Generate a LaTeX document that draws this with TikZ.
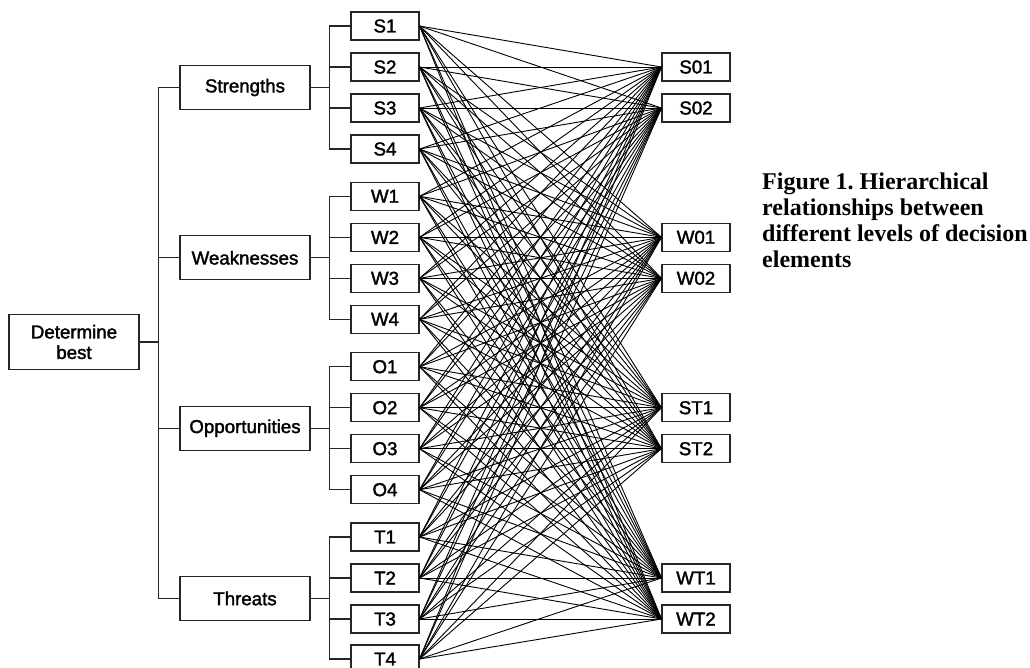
\documentclass[tikz,border=0pt]{standalone}
\usepackage{fontspec}
\setmainfont{Liberation Sans}
\newfontfamily\boxfont[FakeBold=1.8]{Liberation Sans}
\newfontfamily\capfont{Liberation Serif}
\usepackage{tikz}
\usetikzlibrary{calc}
\frenchspacing

\tikzset{
    box/.style={draw=black!85, line width=1.1pt, inner sep=0pt, align=center,
        font=\boxfont\fontsize{18.7}{20.5}\selectfont},
    leaf/.style={box, minimum width=68pt, minimum height=28pt},
    group/.style={box, minimum width=130pt, minimum height=44pt},
    tree/.style={draw=black!85, line width=1.1pt},
    link/.style={line width=0.9pt},
}

\begin{document}
\begin{tikzpicture}[x=1pt,y=-1pt]
    \useasboundingbox (0,0) rectangle (1030,667);
    % goal
    \node[box, minimum width=130pt, minimum height=55pt] (goal) at (74,342) {Determine\\best};
    % swot groups
    \node[group] (str) at (245,87.5) {Strengths};
    \node[group] (wea) at (245,257.8) {Weaknesses};
    \node[group] (opp) at (245,428.2) {Opportunities};
    \node[group] (thr) at (245,598.5) {Threats};
    % factors
    \node[leaf] (s1) at (385,26) {S1};
    \node[leaf] (s2) at (385,67) {S2};
    \node[leaf] (s3) at (385,108) {S3};
    \node[leaf] (s4) at (385,149) {S4};
    \node[leaf] (w1) at (385,196.3) {W1};
    \node[leaf] (w2) at (385,237.3) {W2};
    \node[leaf] (w3) at (385,278.3) {W3};
    \node[leaf] (w4) at (385,319.3) {W4};
    \node[leaf] (o1) at (385,366.7) {O1};
    \node[leaf] (o2) at (385,407.7) {O2};
    \node[leaf] (o3) at (385,448.7) {O3};
    \node[leaf] (o4) at (385,489.7) {O4};
    \node[leaf] (t1) at (385,537) {T1};
    \node[leaf] (t2) at (385,578) {T2};
    \node[leaf] (t3) at (385,619) {T3};
    \node[leaf] (t4) at (385,659) {T4};
    % strategies
    \node[leaf] (so1) at (696,67) {S01};
    \node[leaf] (so2) at (696,108) {S02};
    \node[leaf] (wo1) at (696,237.3) {W01};
    \node[leaf] (wo2) at (696,278.3) {W02};
    \node[leaf] (st1) at (696,407.7) {ST1};
    \node[leaf] (st2) at (696,448.7) {ST2};
    \node[leaf] (wt1) at (696,578) {WT1};
    \node[leaf] (wt2) at (696,619) {WT2};
    % tree lines
    \foreach \g in {str,wea,opp,thr}
        \draw[tree] (goal.east) -- ++(19,0) |- (\g.west);
    \foreach \f in {s1,s2,s3,s4}
        \draw[tree] (str.east) -- ++(19,0) |- (\f.west);
    \foreach \f in {w1,w2,w3,w4}
        \draw[tree] (wea.east) -- ++(19,0) |- (\f.west);
    \foreach \f in {o1,o2,o3,o4}
        \draw[tree] (opp.east) -- ++(19,0) |- (\f.west);
    \foreach \f in {t1,t2,t3,t4}
        \draw[tree] (thr.east) -- ++(19,0) |- (\f.west);
    % every factor to every strategy
    \foreach \f in {s1,s2,s3,s4,w1,w2,w3,w4,o1,o2,o3,o4,t1,t2,t3,t4}
        \foreach \s in {so1,so2,wo1,wo2,st1,st2,wt1,wt2}
            \draw[link] (\f.east) -- (\s.west);
    % caption
    \node[anchor=north west, align=left, inner sep=0pt,
        font=\capfont\bfseries\fontsize{24}{26}\selectfont] (caption) at (762,173)
        {Figure 1. Hierarchical\\relationships between\\different levels of decision\\elements};
\end{tikzpicture}
\end{document}
